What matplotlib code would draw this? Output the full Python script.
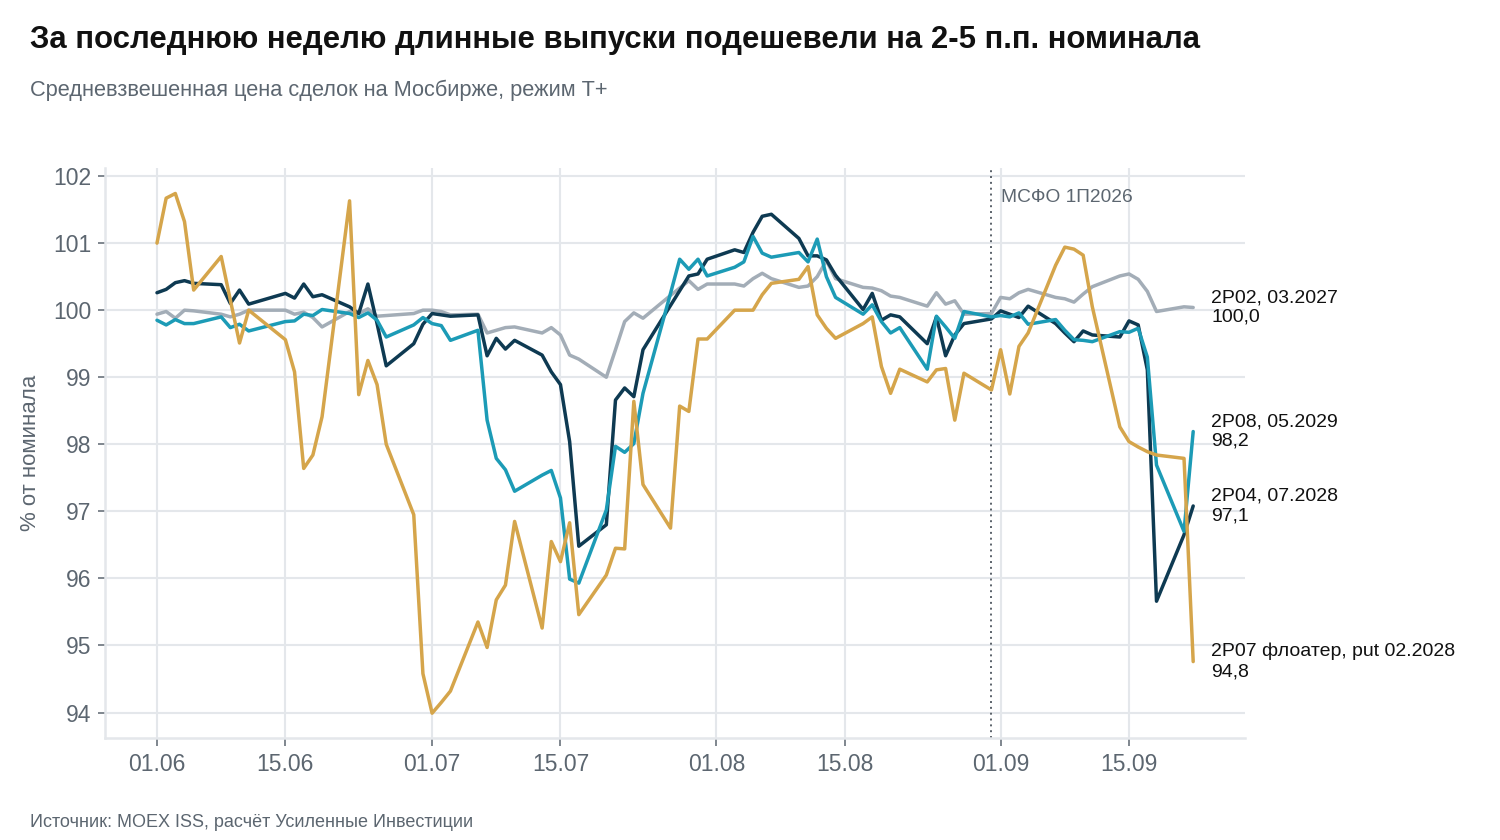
import matplotlib
matplotlib.use("Agg")
import matplotlib.pyplot as plt
import pandas as pd

plt.rcParams['font.family'] = ['Liberation Sans', 'DejaVu Sans']

# ---- data -------------------------------------------------------------
# trading days (business days 2026, 12 June is a holiday)
dates = pd.bdate_range('2026-06-01', '2026-09-22').drop(pd.Timestamp('2026-06-12'))

p02 = [99.94, 99.98, 99.88, 100.0, 99.99,
       99.94, 99.90, 99.94, 100.0,
       100.0, 99.94, 99.97, 99.89, 99.75,
       99.98, 99.95, 100.02, 99.91, 99.92,
       99.95, 100.0,
       100.0, 99.98, 99.93,
       99.94, 99.66, 99.70, 99.74, 99.75,
       99.66, 99.74, 99.63, 99.33, 99.27,
       99.0, 99.41, 99.83, 99.96, 99.88,
       100.22, 100.33, 100.44, 100.31, 100.39,
       100.39, 100.36, 100.47, 100.55, 100.47,
       100.34, 100.36, 100.50, 100.74, 100.47,
       100.34, 100.33, 100.29, 100.21, 100.19,
       100.06, 100.26, 100.09, 100.14, 99.94,
       99.95,
       100.19, 100.17, 100.26, 100.31,
       100.19, 100.17, 100.12, 100.24, 100.35,
       100.51, 100.54, 100.46, 100.28, 99.98,
       100.05, 100.04]

p04 = [100.26, 100.31, 100.41, 100.44, 100.40,
       100.38, 100.10, 100.30, 100.09,
       100.25, 100.18, 100.39, 100.20, 100.23,
       100.05, 99.95, 100.39, 99.80, 99.17,
       99.50, 99.79,
       99.95, 99.93, 99.91,
       99.93, 99.32, 99.58, 99.42, 99.55,
       99.33, 99.08, 98.89, 98.04, 96.48,
       96.80, 98.66, 98.84, 98.71, 99.41,
       100.07, 100.29, 100.51, 100.54, 100.76,
       100.90, 100.86, 101.16, 101.40, 101.43,
       101.07, 100.81, 100.81, 100.75, 100.52,
       100.01, 100.25, 99.85, 99.93, 99.90,
       99.50, 99.90, 99.32, 99.63, 99.80,
       99.87,
       99.99, 99.94, 99.89, 100.06,
       99.80, 99.66, 99.53, 99.69, 99.63,
       99.60, 99.84, 99.78, 99.11, 95.66,
       96.65, 97.08]

p08 = [99.85, 99.78, 99.86, 99.80, 99.80,
       99.90, 99.74, 99.79, 99.69,
       99.83, 99.84, 99.94, 99.92, 100.01,
       99.95, 99.89, 99.96, 99.85, 99.60,
       99.78, 99.89,
       99.80, 99.77, 99.55,
       99.70, 98.36, 97.79, 97.62, 97.30,
       97.54, 97.61, 97.20, 95.99, 95.93,
       97.02, 97.97, 97.88, 98.01, 98.76,
       100.25, 100.76, 100.61, 100.76, 100.51,
       100.64, 100.72, 101.10, 100.85, 100.79,
       100.86, 100.72, 101.06, 100.50, 100.19,
       99.94, 100.08, 99.83, 99.66, 99.74,
       99.12, 99.91, 99.75, 99.58, 99.98,
       99.90,
       99.92, 99.90, 99.96, 99.79,
       99.86, 99.70, 99.56, 99.55, 99.53,
       99.68, 99.67, 99.73, 99.30, 97.69,
       96.70, 98.19]

p07 = [101.0, 101.67, 101.74, 101.32, 100.30,
       100.80, 100.15, 99.51, 100.0,
       99.56, 99.08, 97.64, 97.84, 98.41,
       101.63, 98.74, 99.25, 98.89, 98.0,
       96.95, 94.58,
       93.99, 94.15, 94.32,
       95.35, 94.97, 95.68, 95.90, 96.85,
       95.26, 96.55, 96.25, 96.83, 95.46,
       96.05, 96.45, 96.44, 98.64, 97.40,
       96.75, 98.57, 98.49, 99.57, 99.57,
       100.0, 100.0, 100.0, 100.23, 100.40,
       100.46, 100.65, 99.93, 99.73, 99.58,
       99.80, 99.90, 99.16, 98.76, 99.12,
       98.93, 99.11, 99.13, 98.36, 99.06,
       98.81,
       99.41, 98.75, 99.46, 99.66,
       100.67, 100.94, 100.91, 100.82, 100.05,
       98.26, 98.04, 97.96, 97.89, 97.84,
       97.79, 94.76]

series = [p02, p04, p08, p07]
names = ["2P02, 03.2027", "2P04, 07.2028", "2P08, 05.2029", "2P07 флоатер, put 02.2028"]
colors = ["#a3adb7", "#0e3a52", "#1c9bb6", "#d5a54b"]

tick_dates = ['2026-06-01', '2026-06-15', '2026-07-01', '2026-07-15',
              '2026-08-01', '2026-08-15', '2026-09-01', '2026-09-15']
tick_labels = ['01.06', '15.06', '01.07', '15.07', '01.08', '15.08', '01.09', '15.09']
y_ticks = [94, 95, 96, 97, 98, 99, 100, 101, 102]

event_date = pd.Timestamp('2026-08-31')
event_label = 'МСФО 1П2026'

title = "За последнюю неделю длинные выпуски подешевели на 2-5 п.п. номинала"
subtitle = "Средневзвешенная цена сделок на Мосбирже, режим Т+"
source = "Источник: MOEX ISS, расчёт Усиленные Инвестиции"
ylabel = "% от номинала"

# ---- figure -----------------------------------------------------------
grid_c = "#e4e7eb"
txt_c = "#5c6670"

fig = plt.figure(figsize=(15, 8.4), dpi=100)
ax = fig.add_axes([0.07, 0.1214, 0.76, 0.6786])

for s, c in zip(series, colors):
    ax.plot(dates, s, color=c, lw=2.5, solid_joinstyle='round', solid_capstyle='round', zorder=3)

start = pd.Timestamp('2026-06-01')
ax.set_xlim(start - pd.Timedelta(days=5.67), start + pd.Timedelta(days=118.65))
ax.set_ylim(93.62, 102.12)

ax.set_xticks(pd.to_datetime(tick_dates))
ax.set_xticklabels(tick_labels)
ax.set_yticks(y_ticks)
ax.set_yticklabels([str(t) for t in y_ticks])

ax.grid(True, color=grid_c, lw=1.5, zorder=0)
for sp in ['top', 'right']:
    ax.spines[sp].set_visible(False)
for sp in ['left', 'bottom']:
    ax.spines[sp].set_color(grid_c)
    ax.spines[sp].set_linewidth(1.8)

ax.tick_params(axis='both', colors=txt_c, labelsize=16.5, width=1.1)
ax.tick_params(axis='y', length=5, pad=5)
ax.tick_params(axis='x', length=6, pad=5)

ax.set_ylabel(ylabel, fontsize=16, color=txt_c)
ax.yaxis.set_label_coords(-0.056, 0.5)

# event line
ax.axvline(event_date, color="#5a6169", lw=1.4, ls=(0, (1, 2)), zorder=2)
ax.annotate(event_label, xy=(event_date, 0.949), xycoords=('data', 'axes fraction'),
            xytext=(7, 0), textcoords='offset points', ha='left', va='center',
            fontsize=13.8, color=txt_c)

# end labels
for s, n in zip(series, names):
    val = f"{s[-1]:.1f}".replace('.', ',')
    ax.annotate(f"{n}\n{val}", xy=(dates[-1], s[-1]), xytext=(13, 0),
                textcoords='offset points', ha='left', va='center',
                fontsize=14, color="#111111", linespacing=1.22,
                annotation_clip=False)

fig.text(0.02, 0.952, title, fontsize=22.4, fontweight='bold', color="#111111",
         ha='left', va='center')
fig.text(0.02, 0.893, subtitle, fontsize=15.7, color=txt_c, ha='left', va='center')
fig.text(0.02, 0.0214, source, fontsize=13, color=txt_c, ha='left', va='center')

fig.savefig("out.png", dpi=100)
